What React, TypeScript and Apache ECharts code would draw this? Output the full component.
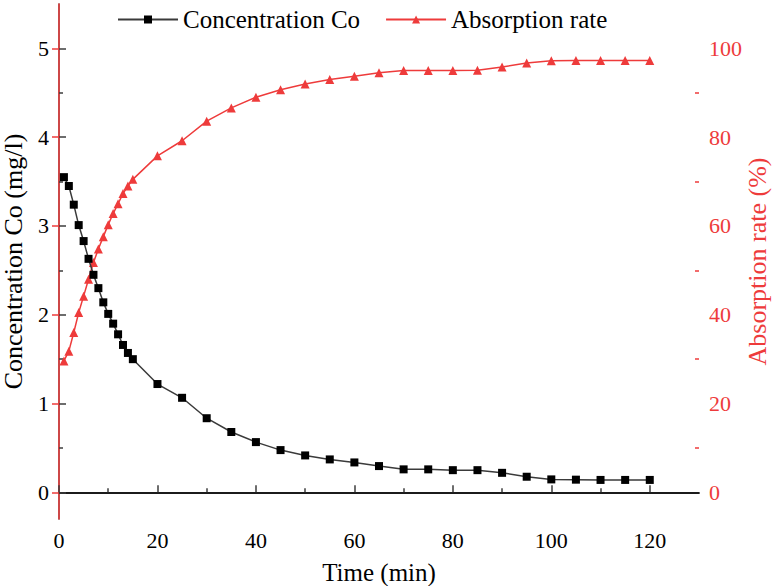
import React, { useEffect, useRef } from "react";
import * as echarts from "echarts";

const times = [1, 2, 3, 4, 5, 6, 7, 8, 9, 10, 11, 12, 13, 14, 15, 20, 25, 30, 35, 40, 45, 50, 55, 60, 65, 70, 75, 80, 85, 90, 95, 100, 105, 110, 115, 120];
const concentration = [3.55, 3.45, 3.24, 3.01, 2.83, 2.63, 2.45, 2.3, 2.14, 2.01, 1.9, 1.78, 1.66, 1.57, 1.5, 1.22, 1.065, 0.835, 0.68, 0.566, 0.476, 0.416, 0.371, 0.337, 0.296, 0.259, 0.259, 0.25, 0.25, 0.22, 0.176, 0.146, 0.143, 0.14, 0.14, 0.14];
const absorption = [29.6, 31.8, 36, 40.5, 44.2, 48, 51.8, 54.8, 57.6, 60.3, 62.8, 65, 67.3, 69, 70.5, 75.8, 79.2, 83.6, 86.6, 89, 90.7, 92, 93, 93.7, 94.5, 95, 95, 95, 95.1, 95.8, 96.7, 97.2, 97.3, 97.3, 97.3, 97.3];

const xTicks = [0, 20, 40, 60, 80, 100, 120];
const xMinorTicks = [10, 30, 50, 70, 90, 110];
const leftTicks = [0, 1, 2, 3, 4, 5];
const leftMinorTicks = [0.5, 1.5, 2.5, 3.5, 4.5];
const rightTicks = [0, 20, 40, 60, 80, 100];
const rightMinorTicks = [10, 30, 50, 70, 90];

const FONT = "Liberation Serif";
const RED = "#ee3b3b";
const AXIS = "#3c3c3c";

export default function App() {
  const ref = useRef<HTMLDivElement>(null);
  useEffect(() => {
    if (!ref.current) return;
    const chart = echarts.init(ref.current, null, { renderer: "svg" });
    const labelStyle = { fontFamily: FONT, fontSize: 22, color: "#000", margin: 10 };
    chart.setOption({
      animation: false,
      backgroundColor: "#fff",
      textStyle: { fontFamily: FONT },
      grid: { left: 59, right: 77, top: 4, bottom: 67, outerBoundsMode: "none" },
      legend: {
        left: 117,
        top: 7,
        padding: 0,
        itemWidth: 60,
        itemHeight: 10,
        itemGap: 25,
        textStyle: { fontFamily: FONT, fontSize: 25, color: "#000" },
        data: ["Concentration Co", "Absorption rate"],
      },
      xAxis: [
        {
          type: "value",
          position: "bottom",
          min: 0,
          max: 130,
          name: "Time (min)",
          nameLocation: "middle",
          nameGap: 41,
          nameMoveOverlap: false,
          nameTextStyle: { fontFamily: FONT, fontSize: 25, color: "#000" },
          axisLine: { show: true, lineStyle: { color: AXIS, width: 1.5 } },
          axisTick: { show: true, inside: true, length: 7, customValues: xTicks, lineStyle: { color: AXIS, width: 1.5 } },
          axisLabel: { ...labelStyle, customValues: xTicks },
          splitLine: { show: false },
        },
        {
          type: "value",
          position: "bottom",
          min: 0,
          max: 130,
          axisLine: { show: false },
          axisTick: { show: true, inside: true, length: 4, customValues: xMinorTicks, lineStyle: { color: AXIS, width: 1.5 } },
          axisLabel: { show: false },
          splitLine: { show: false },
        },
        {
          type: "value",
          position: "top",
          min: 0,
          max: 130,
          axisLine: { show: true, lineStyle: { color: "#000", width: 1.5 } },
          axisTick: { show: false },
          axisLabel: { show: false },
          splitLine: { show: false },
        },
      ],
      yAxis: [
        {
          type: "value",
          position: "left",
          min: -0.3,
          max: 5.5,
          name: "Concentration Co (mg/l)",
          nameLocation: "middle",
          nameGap: 33,
          nameMoveOverlap: false,
          nameTextStyle: { fontFamily: FONT, fontSize: 26, color: "#000" },
          axisLine: { show: true, lineStyle: { color: AXIS, width: 1.5 } },
          axisTick: { show: true, inside: true, length: 7, customValues: leftTicks, lineStyle: { color: AXIS, width: 1.5 } },
          axisLabel: { ...labelStyle, customValues: leftTicks },
          splitLine: { show: false },
        },
        {
          type: "value",
          position: "right",
          min: -6,
          max: 110,
          name: "Absorption rate (%)",
          nameLocation: "middle",
          nameGap: 45,
          nameMoveOverlap: false,
          nameTextStyle: { fontFamily: FONT, fontSize: 26, color: RED },
          axisLine: { show: true, lineStyle: { color: RED, width: 1.5 } },
          axisTick: { show: true, inside: true, length: 7, customValues: rightTicks, lineStyle: { color: RED, width: 1.5 } },
          axisLabel: { ...labelStyle, color: RED, customValues: rightTicks },
          splitLine: { show: false },
        },
        {
          type: "value",
          position: "left",
          min: -0.3,
          max: 5.5,
          axisLine: { show: false },
          axisTick: { show: true, inside: true, length: 4, customValues: leftMinorTicks, lineStyle: { color: AXIS, width: 1.5 } },
          axisLabel: { show: false },
          splitLine: { show: false },
        },
        {
          type: "value",
          position: "right",
          min: -6,
          max: 110,
          axisLine: { show: false },
          axisTick: { show: true, inside: true, length: 4, customValues: rightMinorTicks, lineStyle: { color: RED, width: 1.5 } },
          axisLabel: { show: false },
          splitLine: { show: false },
        },
      ],
      series: [
        {
          name: "Concentration Co",
          type: "line",
          xAxisIndex: 0,
          yAxisIndex: 0,
          data: times.map((t, i) => [t, concentration[i]]),
          symbol: "rect",
          symbolSize: 8,
          showSymbol: true,
          lineStyle: { color: "#3a3a3a", width: 1.5 },
          itemStyle: { color: "#000" },
          z: 3,
        },
        {
          name: "Absorption rate",
          type: "line",
          xAxisIndex: 0,
          yAxisIndex: 1,
          data: times.map((t, i) => [t, absorption[i]]),
          symbol: "triangle",
          symbolSize: 9,
          showSymbol: true,
          lineStyle: { color: RED, width: 1.5 },
          itemStyle: { color: RED },
          z: 2,
        },
      ],
    });
    return () => chart.dispose();
  }, []);
  return <div ref={ref} style={{ position: "fixed", left: 0, top: 0, width: 776, height: 586 }} />;
}
